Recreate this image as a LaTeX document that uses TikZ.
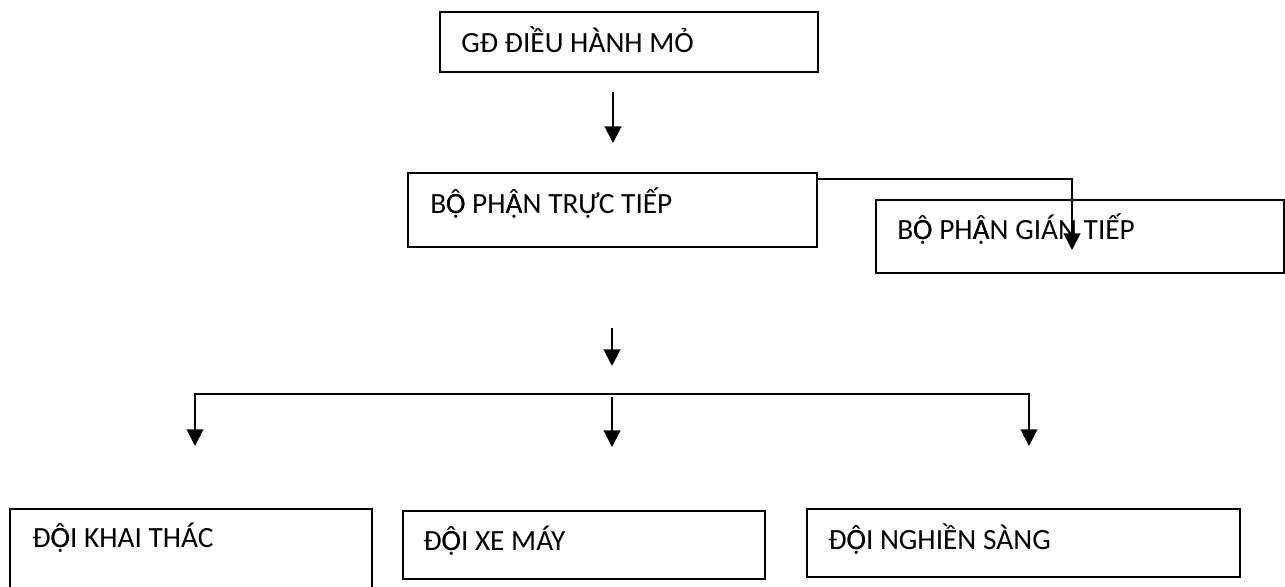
\documentclass[tikz,border=0pt]{standalone}
\usepackage{fontspec}
\setmainfont{Carlito}
\usetikzlibrary{arrows.meta,fit}
\newcommand\myOcd{\rlap{Ọ}Ô}
\newcommand\myAcd{\rlap{Ạ}Â}
\begin{document}
\begin{tikzpicture}[x=0.75pt,y=-0.75pt,
  box/.style={draw, line width=1.5pt, inner sep=0pt},
  txt/.style={inner sep=0pt, anchor=base west, font=\fontsize{22pt}{26pt}\selectfont},
  tipshape/.style={},
  arr/.style={line width=1.5pt, -{Triangle[width=12.5pt,length=12.5pt]}},
  arrboth/.style={line width=1.5pt, {Triangle[width=12.5pt,length=12.5pt]}-{Triangle[width=12.5pt,length=12.5pt]}}]
\useasboundingbox (0,0) rectangle (1285,586);
\clip (0,0) rectangle (1285,586);
% boxes
\node[box, fit={(440,12) (818,72)}] (gd) {};
\node[box, fit={(408,173) (817,247)}] (tt) {};
\node[box, fit={(876,200) (1284,273)}] (gt) {};
\node[box, fit={(10,509) (372,600)}] (kt) {};
\node[box, fit={(403,511) (765,579)}] (xm) {};
\node[box, fit={(807,509) (1240,577)}] (ns) {};
% texts
\node[txt] (gdt) at (461,52) {GĐ ĐIỀU HÀNH MỎ};
\node[txt] (ttt) at (430,213) {B\myOcd{} PH\myAcd{}N TRỰC TIẾP};
\node[txt] (gtt) at (897,239) {B\myOcd{} PH\myAcd{}N GIÁN TIẾP};
\node[txt] (ktt) at (32,547) {Đ\myOcd{}I KHAI THÁC};
\node[txt] (xmt) at (423,550) {Đ\myOcd{}I XE MÁY};
\node[txt] (nst) at (828,549) {Đ\myOcd{}I NGHIỀN SÀNG};
% connector coordinates
\coordinate (a1s) at (613,92);
\coordinate (a1e) at (613,143);
\coordinate (c1) at (tt.east |- 0,179);
\coordinate (c2) at (1072,250);
\coordinate (a2s) at (612,328);
\coordinate (a2e) at (612,366);
\coordinate (bl) at (195,394);
\coordinate (br) at (1029,394);
\coordinate (bld) at (195,446);
\coordinate (brd) at (1029,446);
\coordinate (bms) at (612,397);
\coordinate (bme) at (612,447);
% connectors
\draw[arr] (a1s) -- (a1e);
\draw[arr] (c1) -| (c2);
\draw[arr] (a2s) -- (a2e);
\draw[arrboth] (bld) -- (bl) -- (br) -- (brd);
\draw[arr] (bms) -- (bme);
\end{tikzpicture}
\end{document}
